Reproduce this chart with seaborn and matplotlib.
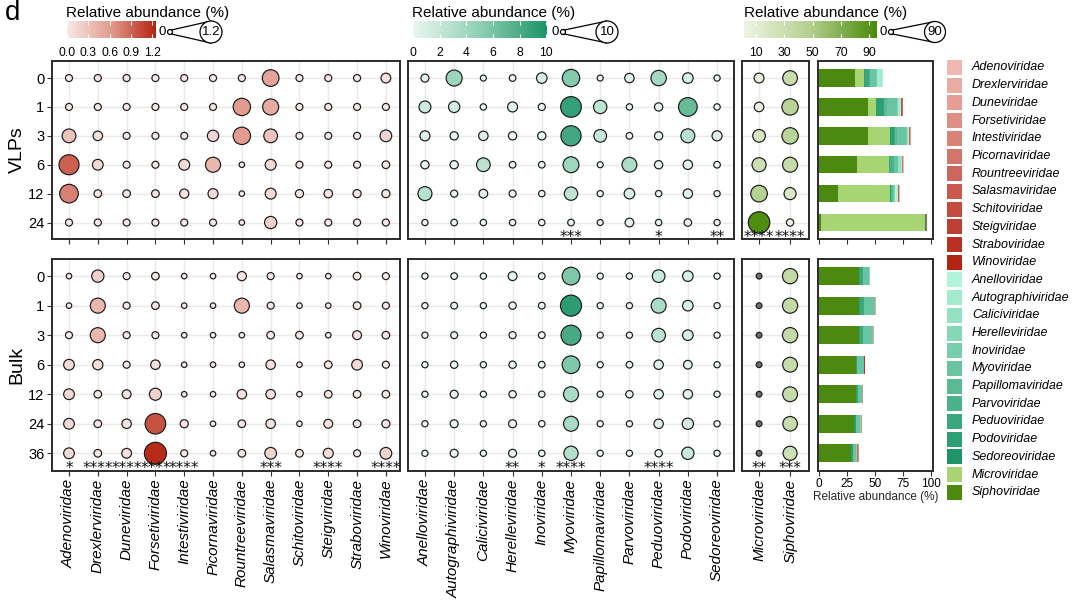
import numpy as np
import pandas as pd
import matplotlib
matplotlib.use("Agg")
import matplotlib.pyplot as plt
import seaborn as sns
from matplotlib.colors import LinearSegmentedColormap, Normalize, to_rgb, to_hex
from matplotlib.patches import Circle, Rectangle

# ---------------- data ----------------
days_vlp = ["0", "1", "3", "6", "12", "24"]
days_bulk = ["0", "1", "3", "6", "12", "24", "36"]

red_fams = ["Adenoviridae", "Drexlerviridae", "Duneviridae", "Forsetiviridae",
            "Intestiviridae", "Picornaviridae", "Rountreeviridae", "Salasmaviridae",
            "Schitoviridae", "Steigviridae", "Straboviridae", "Winoviridae"]
teal_fams = ["Anelloviridae", "Autographiviridae", "Caliciviridae", "Herelleviridae",
             "Inoviridae", "Myoviridae", "Papillomaviridae", "Parvoviridae",
             "Peduoviridae", "Podoviridae", "Sedoreoviridae"]
olive_fams = ["Microviridae", "Siphoviridae"]

red_vlp = [
    [0.01, 0.01, 0.01, 0.01, 0.01, 0.01, 0.01, 0.55, 0.01, 0.01, 0.01, 0.08],
    [0.01, 0.01, 0.01, 0.01, 0.01, 0.01, 0.62, 0.49, 0.01, 0.01, 0.01, 0.01],
    [0.30, 0.07, 0.01, 0.01, 0.01, 0.15, 0.62, 0.30, 0.01, 0.01, 0.01, 0.17],
    [0.93, 0.12, 0.01, 0.01, 0.13, 0.40, 0.00, 0.13, 0.01, 0.01, 0.01, 0.02],
    [0.76, 0.02, 0.02, 0.02, 0.06, 0.09, 0.00, 0.13, 0.03, 0.04, 0.03, 0.03],
    [0.01, 0.01, 0.01, 0.01, 0.01, 0.01, 0.00, 0.20, 0.01, 0.01, 0.01, 0.01],
]
red_bulk = [
    [0.00, 0.20, 0.01, 0.02, 0.00, 0.00, 0.06, 0.01, 0.00, 0.00, 0.02, 0.01],
    [0.00, 0.40, 0.01, 0.02, 0.00, 0.00, 0.40, 0.01, 0.00, 0.00, 0.02, 0.01],
    [0.01, 0.40, 0.01, 0.01, 0.00, 0.00, 0.00, 0.02, 0.02, 0.00, 0.05, 0.02],
    [0.12, 0.10, 0.01, 0.07, 0.00, 0.00, 0.00, 0.07, 0.00, 0.02, 0.12, 0.01],
    [0.12, 0.02, 0.05, 0.19, 0.00, 0.00, 0.07, 0.07, 0.00, 0.02, 0.02, 0.02],
    [0.12, 0.02, 0.07, 1.00, 0.03, 0.00, 0.02, 0.07, 0.00, 0.05, 0.02, 0.03],
    [0.12, 0.02, 0.08, 1.20, 0.01, 0.00, 0.02, 0.17, 0.02, 0.09, 0.01, 0.17],
]
teal_vlp = [
    [0.25, 4.3, 0.01, 0.05, 1.0, 5.5, 0.01, 0.6, 3.8, 1.0, 0.02],
    [1.6, 1.3, 0.03, 0.8, 0.1, 9.0, 2.4, 0.03, 0.3, 6.8, 0.03],
    [0.8, 0.3, 0.6, 0.3, 0.3, 8.4, 2.0, 0.05, 0.3, 2.8, 0.8],
    [0.3, 0.3, 2.6, 0.05, 0.05, 4.2, 0.01, 3.4, 0.3, 0.6, 0.05],
    [2.8, 0.1, 0.4, 0.1, 0.03, 2.4, 0.02, 1.0, 0.03, 0.6, 0.02],
    [0.02, 0.05, 0.03, 0.03, 0.03, 0.05, 0.01, 0.4, 0.03, 0.15, 0.02],
]
teal_bulk = [
    [0.02, 0.05, 0.02, 0.45, 0.05, 5.8, 0.02, 0.02, 2.0, 1.0, 0.02],
    [0.02, 0.06, 0.02, 0.13, 0.06, 9.4, 0.02, 0.02, 3.5, 1.0, 0.02],
    [0.02, 0.08, 0.02, 0.10, 0.06, 8.2, 0.02, 0.02, 2.6, 1.0, 0.02],
    [0.02, 0.13, 0.02, 0.13, 0.05, 5.8, 0.02, 0.05, 0.6, 0.4, 0.02],
    [0.02, 0.24, 0.02, 0.13, 0.03, 3.5, 0.02, 0.13, 0.6, 0.6, 0.02],
    [0.02, 0.24, 0.02, 0.24, 0.03, 3.5, 0.02, 0.02, 0.6, 1.3, 0.02],
    [0.02, 0.24, 0.02, 0.24, 0.03, 3.0, 0.02, 0.02, 0.13, 1.8, 0.02],
]
micro_vlp = [8.0, 7.0, 20.0, 28.0, 46.0, 93.0]
sipho_vlp = [32.0, 44.0, 43.5, 34.0, 17.0, 1.8]
micro_bulk = [0.2, 0.2, 0.2, 0.2, 0.2, 0.2, 0.2]
sipho_bulk = [35.6, 35.3, 35.6, 32.9, 32.9, 31.0, 28.0]

sig_red_vlp = ["", "", "", "", "", "", "", "", "", "", "", ""]
sig_teal_vlp = ["", "", "", "", "", "***", "", "", "*", "", "**"]
sig_olive_vlp = ["****", "****"]
sig_red_bulk = ["*", "****", "****", "****", "****", "", "", "***", "", "****", "", "****"]
sig_teal_bulk = ["", "", "", "**", "*", "****", "", "", "****", "", ""]
sig_olive_bulk = ["**", "***"]

bar_ticks = [0, 25, 50, 75, 100]

# ---------------- style ----------------
sns.set_theme(style="white")
plt.rcParams['font.family'] = ['Liberation Sans', 'DejaVu Sans']
plt.rcParams['text.color'] = 'black'
plt.rcParams['xtick.color'] = '#333333'
plt.rcParams['ytick.color'] = '#333333'
plt.rcParams['xtick.labelcolor'] = 'black'
plt.rcParams['ytick.labelcolor'] = 'black'

W, H = 1080, 606
fig = plt.figure(figsize=(W / 100, H / 100), dpi=100)


def px_axes(x0, y0, x1, y1, **kw):
    return fig.add_axes([x0 / W, 1 - y1 / H, (x1 - x0) / W, (y1 - y0) / H], **kw)


red_cmap = LinearSegmentedColormap.from_list("r", ["#f8e9e6", "#e29a8e", "#b3230f"])
teal_cmap = LinearSegmentedColormap.from_list("t", ["#eaf6f1", "#8fd0b4", "#1e9468"])
olive_cmap = LinearSegmentedColormap.from_list("o", ["#eef4e4", "#b3d08e", "#4a8a0b"])
olive_cmap.set_under("#6e6e6e")

red_norm = Normalize(0, 1.25)
teal_norm = Normalize(0, 10.05)
olive_norm = Normalize(1.5, 95.5)

SPINE = '#2b2b2b'


def style_spines(ax):
    for s in ax.spines.values():
        s.set_visible(True)
        s.set_color(SPINE)
        s.set_linewidth(1.4)


def dot_panel(ax, fams, days, mat, cmap, norm, dmin, dmax, vmax, sig, xlim,
              ylim, show_y, show_x):
    rows = []
    for i, d in enumerate(days):
        for j, f in enumerate(fams):
            v = mat[i][j]
            diam = dmin + (dmax - dmin) * np.sqrt(max(v, 0) / vmax)
            rows.append(dict(xi=j, yi=i, value=v, area=(diam * 0.72) ** 2))
    df = pd.DataFrame(rows)
    ax.set_axisbelow(True)
    ax.grid(True, color='#e8e8e8', lw=1.0)
    amin, amax = df['area'].min(), df['area'].max()
    sns.scatterplot(data=df, x='xi', y='yi', hue='value', palette=cmap,
                    hue_norm=norm, size='area', sizes=(amin, amax),
                    size_norm=(amin, amax), edgecolor='#1a1a1a', linewidth=0.85,
                    legend=False, ax=ax, zorder=3)
    for j, s in enumerate(sig):
        if s:
            ax.text(j, len(days) - 1 + 0.66, s, ha='center', va='baseline',
                    fontsize=11, family='DejaVu Sans', zorder=6, color='#111111')
    ax.set_xlim(*xlim)
    ax.set_ylim(*ylim)
    ax.set_xticks(range(len(fams)))
    ax.set_yticks(range(len(days)))
    ax.set_xlabel("")
    ax.set_ylabel("")
    if show_x:
        ax.set_xticklabels(fams, rotation=90, style='italic', fontsize=11)
    else:
        ax.set_xticklabels([])
    if show_y:
        ax.set_yticklabels(days, fontsize=10.5)
        ax.tick_params(axis='y', length=3.5, width=0.8, left=True, pad=2)
    else:
        ax.set_yticklabels([])
        ax.tick_params(axis='y', length=0)
    ax.tick_params(axis='x', length=3.5, width=0.8, bottom=True, pad=2)
    style_spines(ax)


ylim_vlp = (len(days_vlp) - 1 + 0.57, -0.59)
ylim_bulk = (len(days_bulk) - 1 + 0.6, -0.58)
xlim_red = (-0.59, 11.49)
xlim_teal = (-0.58, 10.58)
xlim_olive = (-0.55, 1.61)

rsz = dict(dmin=5.5, dmax=22.0, vmax=1.2)
tsz = dict(dmin=5.5, dmax=21.5, vmax=10.0)
osz = dict(dmin=5.0, dmax=21.5, vmax=93.0)

# top row
ax = px_axes(52, 61, 400, 239)
dot_panel(ax, red_fams, days_vlp, red_vlp, red_cmap, red_norm, sig=sig_red_vlp,
          xlim=xlim_red, ylim=ylim_vlp, show_y=True, show_x=False, **rsz)
ax = px_axes(408, 61, 734, 239)
dot_panel(ax, teal_fams, days_vlp, teal_vlp, teal_cmap, teal_norm, sig=sig_teal_vlp,
          xlim=xlim_teal, ylim=ylim_vlp, show_y=False, show_x=False, **tsz)
ax = px_axes(742, 61, 809, 239)
olive_vlp = [[m, s] for m, s in zip(micro_vlp, sipho_vlp)]
dot_panel(ax, olive_fams, days_vlp, olive_vlp, olive_cmap, olive_norm, sig=sig_olive_vlp,
          xlim=xlim_olive, ylim=ylim_vlp, show_y=False, show_x=False, **osz)

# bottom row
ax = px_axes(52, 259, 400, 471)
dot_panel(ax, red_fams, days_bulk, red_bulk, red_cmap, red_norm, sig=sig_red_bulk,
          xlim=xlim_red, ylim=ylim_bulk, show_y=True, show_x=True, **rsz)
ax = px_axes(408, 259, 734, 471)
dot_panel(ax, teal_fams, days_bulk, teal_bulk, teal_cmap, teal_norm, sig=sig_teal_bulk,
          xlim=xlim_teal, ylim=ylim_bulk, show_y=False, show_x=True, **tsz)
ax = px_axes(742, 259, 809, 471)
olive_bulk = [[m, s] for m, s in zip(micro_bulk, sipho_bulk)]
dot_panel(ax, olive_fams, days_bulk, olive_bulk, olive_cmap, olive_norm, sig=sig_olive_bulk,
          xlim=xlim_olive, ylim=ylim_bulk, show_y=False, show_x=True, **osz)

# ---------------- stacked bars ----------------
def ramp(c0, c1, n):
    a, b = np.array(to_rgb(c0)), np.array(to_rgb(c1))
    return [to_hex(a + (b - a) * t) for t in np.linspace(0, 1, n)]


red_cols = ramp("#f0b8b1", "#b22414", len(red_fams))
teal_cols = ramp("#b0f5da", "#1f9468", len(teal_fams))
olive_cols = ["#a8d574", "#4b8a0e"]
all_fams = red_fams + teal_fams + olive_fams
all_cols = red_cols + teal_cols + olive_cols
stack_order = list(range(len(all_fams)))[::-1]  # Siphoviridae first


def bar_panel(ax, days, red, teal, micro, sipho, ylim, show_x):
    for i in range(len(days)):
        vals = list(red[i]) + list(teal[i]) + [micro[i], sipho[i]]
        left = 0.0
        for k in stack_order:
            ax.barh(i, vals[k], left=left, height=0.6, color=all_cols[k],
                    edgecolor='none', zorder=3)
            left += vals[k]
    ax.set_xlim(-1.0, 101.5)
    ax.set_ylim(*ylim)
    ax.set_yticks([])
    ax.set_xticks(bar_ticks)
    ax.grid(False)
    ax.tick_params(axis='x', length=3.5, width=0.8, bottom=True, pad=1.5)
    if show_x:
        ax.set_xticklabels([str(t) for t in bar_ticks], fontsize=8.5)
        ax.set_xlabel("Relative abundance (%)", fontsize=8.5, labelpad=1)
    else:
        ax.set_xticklabels([])
    style_spines(ax)


ax = px_axes(818, 61, 933, 239)
bar_panel(ax, days_vlp, red_vlp, teal_vlp, micro_vlp, sipho_vlp, ylim_vlp, False)
ax = px_axes(818, 259, 933, 471)
bar_panel(ax, days_bulk, red_bulk, teal_bulk, micro_bulk, sipho_bulk, ylim_bulk, True)

# ---------------- colorbars ----------------
def colorbar(x0, x1, cmap, norm, ticks, labels):
    cax = px_axes(x0, 21, x1, 38)
    grad = np.linspace(norm.vmin, norm.vmax, 256)[None, :]
    cax.imshow(grad, aspect='auto', cmap=cmap, norm=norm,
               extent=[norm.vmin, norm.vmax, 0, 1])
    cax.set_xlim(norm.vmin, norm.vmax)
    cax.set_yticks([])
    cax.set_xticks(ticks)
    cax.set_xticklabels(labels, fontsize=8.8)
    cax.tick_params(axis='x', direction='in', length=3, width=0.8, color='white',
                    top=True, bottom=True, pad=6.5)
    for s in cax.spines.values():
        s.set_visible(False)


colorbar(67, 156, red_cmap, red_norm, [0, 0.3, 0.6, 0.9, 1.2],
         ["0.0", "0.3", "0.6", "0.9", "1.2"])
colorbar(413, 547, teal_cmap, teal_norm, [0, 2, 4, 6, 8, 10],
         ["0", "2", "4", "6", "8", "10"])
colorbar(744, 877, olive_cmap, olive_norm, [10, 30, 50, 70, 90],
         ["10", "30", "50", "70", "90"])

# ---------------- overlay annotations ----------------
ov = fig.add_axes([0, 0, 1, 1])
ov.set_xlim(0, W)
ov.set_ylim(H, 0)
ov.axis('off')
ov.patch.set_visible(False)

for x in (66, 412, 744):
    ov.text(x, 13, "Relative abundance (%)", fontsize=11, ha='left', va='center')


def size_legend(xt, xs, xb, yc, rs, rb, label):
    ov.text(xt, yc, "0", ha='center', va='center', fontsize=9.5)
    ov.add_patch(Circle((xs, yc), rs, fill=False, ec='black', lw=0.9))
    ov.add_patch(Circle((xb, yc), rb, facecolor='white', ec='black', lw=0.9, zorder=3))
    ov.plot([xs + rs * 0.6, xb], [yc - rs * 0.8, yc - rb], color='black', lw=0.9, zorder=2)
    ov.plot([xs + rs * 0.6, xb], [yc + rs * 0.8, yc + rb], color='black', lw=0.9, zorder=2)
    ov.text(xb, yc, label, ha='center', va='center', fontsize=9.5, zorder=4)


size_legend(162, 170, 211, 32, 2.5, 11, "1.2")
size_legend(555, 563, 607, 32, 2.5, 11, "10")
size_legend(883, 891, 935, 32, 2.5, 10.5, "90")

ov.text(5, 13, "d", fontsize=20, ha='left', va='center')
ov.text(17, 150, "VLPs", fontsize=14, rotation=90, ha='center', va='center')
ov.text(17, 365, "Bulk", fontsize=14, rotation=90, ha='center', va='center')

# family legend
for k, (fam, col) in enumerate(zip(all_fams, all_cols)):
    yc = 67.5 + k * 17.7
    ov.add_patch(Rectangle((947, yc - 7.5), 15, 15, facecolor=col, edgecolor='none'))
    ov.text(972, yc, fam, fontsize=9, style='italic', ha='left', va='center')

fig.savefig("out.png", dpi=100)
